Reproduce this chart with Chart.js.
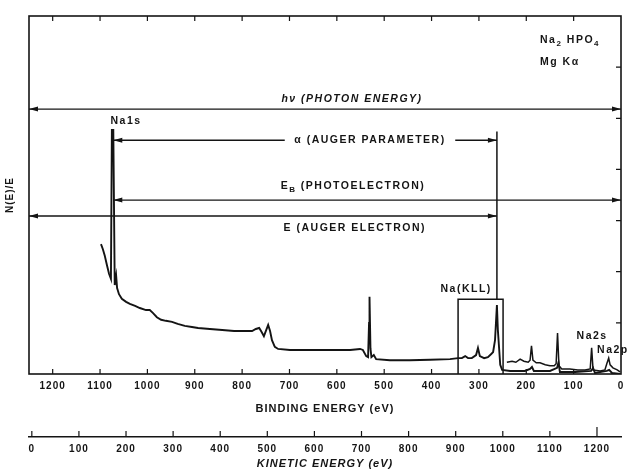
<!DOCTYPE html>
<html>
<head>
<meta charset="utf-8">
<script src="https://cdn.jsdelivr.net/npm/chart.js@4.4.0/dist/chart.umd.min.js"></script>
<style>
    html, body { margin: 0; padding: 0; background: #fff; }
    #wrap { width: 627px; height: 473px; }
</style>
</head>
<body>
<div id="wrap"><canvas id="xps-chart"></canvas></div>
<script>
// survey spectrum: binding energy (eV) and N(E)/E (arbitrary units)
const bindingEnergy = [1098, 1094, 1090, 1085, 1081, 1077, 1075, 1072, 1069, 1066, 1064, 1060, 1054, 1045, 1037,
    1026, 1016, 1003, 995, 988, 980, 971, 961, 948, 936, 921, 906, 893, 868, 842, 817, 794, 779, 771, 764, 760,
    754, 745, 741, 737, 731, 724, 699, 657, 614, 572, 551, 545, 538, 534, 532, 531, 529, 527, 522, 517, 488, 446,
    403, 361, 344, 336, 329, 323, 315, 306, 302, 298, 289, 281, 274, 270, 266, 262, 260, 255, 251, 234, 213, 203,
    192, 188, 184, 150, 135, 132, 129, 97, 63, 59, 55, 30, 25, 19, 2];
const counts = [2.54, 2.44, 2.31, 2.11, 1.96, 1.86, 4.77, 4.77, 1.74, 1.92, 1.68, 1.56, 1.47, 1.41, 1.37,
    1.33, 1.29, 1.25, 1.25, 1.19, 1.11, 1.06, 1.04, 1.02, 0.98, 0.94, 0.92, 0.90, 0.88, 0.86, 0.84, 0.84, 0.84, 0.88, 0.90, 0.84,
    0.74, 0.96, 0.84, 0.66, 0.53, 0.49, 0.47, 0.47, 0.47, 0.47, 0.49, 0.47, 0.35, 0.33, 1.00, 1.51, 0.50, 0.33, 0.37, 0.29, 0.27, 0.27,
    0.28, 0.29, 0.31, 0.31, 0.35, 0.31, 0.31, 0.37, 0.51, 0.35, 0.31, 0.33, 0.39, 0.43, 0.66, 1.35, 0.86, 0.18, 0.08, 0.06, 0.06, 0.06,
    0.10, 0.14, 0.06, 0.06, 0.12, 0.23, 0.04, 0.04, 0.06, 0.12, 0.02, 0.06, 0.08, 0.02, 0.00];

// expanded trace of the low binding energy end
const expandedEnergy = [241, 230, 222, 213, 205, 196, 192, 189, 186, 179, 171, 160, 150, 141, 137, 134, 131, 125,
    108, 91, 76, 65, 62, 59, 44, 34, 30, 26, 23, 17, 8, 2];
const expandedCounts = [0.23, 0.25, 0.23, 0.29, 0.25, 0.23, 0.27, 0.55, 0.27, 0.22, 0.22, 0.18, 0.16, 0.16, 0.20, 0.80, 0.16, 0.10,
    0.10, 0.08, 0.08, 0.10, 0.51, 0.08, 0.06, 0.08, 0.20, 0.31, 0.18, 0.12, 0.08, 0.04];

// Na(KLL) marker and box
const kllMarkerEnergy = [262, 262];
const kllMarkerLevel = [4.74, 1.46];
const kllBoxEnergy = [344, 344, 249, 249];
const kllBoxLevel = [0, 1.46, 1.46, 0];

// energy arrows: hv, alpha, E_B, E
const arrowFrom = [1250, 1072, 1072, 1250];
const arrowTo = [0, 262, 0, 262];
const arrowLevel = [5.18, 4.57, 3.40, 3.09];
const arrowGapFrom = [null, 710, null, null];
const arrowGapTo = [null, 350, null, null];

const bindingTicks = [1200, 1100, 1000, 900, 800, 700, 600, 500, 400, 300, 200, 100, 0];
const kineticTicks = [0, 100, 200, 300, 400, 500, 600, 700, 800, 900, 1000, 1100, 1200];

const ink = '#141414';
const toPoints = (xs, ys) => xs.map((x, i) => ({x: x, y: ys[i]}));

const arrowSets = arrowFrom.map((from, i) => {
    const lv = arrowLevel[i];
    const pts = [{x: from, y: lv}];
    if (arrowGapFrom[i] !== null) {
        pts.push({x: arrowGapFrom[i], y: lv});
        pts.push({x: (arrowGapFrom[i] + arrowGapTo[i]) / 2, y: null});
        pts.push({x: arrowGapTo[i], y: lv});
    }
    pts.push({x: arrowTo[i], y: lv});
    return {data: pts, borderWidth: 1.4, arrowHeads: true};
});

// text placed in data units (binding energy, level)
const notes = [
    {parts: ['Na1s'], x: 1045, y: 4.95},
    {parts: ['hν (PHOTON ENERGY)'], x: 568, y: 5.38, italic: true},
    {parts: ['α (AUGER PARAMETER)'], x: 530, y: 4.57},
    {parts: ['E', '_B', ' (PHOTOELECTRON)'], x: 566, y: 3.68},
    {parts: ['E (AUGER ELECTRON)'], x: 562, y: 2.85},
    {parts: ['Na(KLL)'], x: 327, y: 1.66},
    {parts: ['Na2s'], x: 61, y: 0.74},
    {parts: ['Na2p'], x: 17, y: 0.47},
    {parts: ['Na', '_2', ' HPO', '_4'], x: 171, y: 6.53, left: true},
    {parts: ['Mg Kα'], x: 171, y: 6.10, left: true},
];

function drawParts(ctx, note, px, py) {
    const base = (note.italic ? 'italic ' : '') + 'bold 10.5px "Liberation Sans", Arial, sans-serif';
    const sub = 'bold 8px "Liberation Sans", Arial, sans-serif';
    const widths = note.parts.map(p => {
        ctx.font = p.startsWith('_') ? sub : base;
        return ctx.measureText(p.replace(/^_/, '')).width;
    });
    const total = widths.reduce((a, b) => a + b, 0);
    let x = note.left ? px : px - total / 2;
    note.parts.forEach((p, i) => {
        const isSub = p.startsWith('_');
        ctx.font = isSub ? sub : base;
        ctx.fillText(p.replace(/^_/, ''), x, isSub ? py + 4 : py);
        x += widths[i];
    });
}

const spacing = {
    id: 'spacing',
    beforeUpdate(chart) { chart.ctx.letterSpacing = '1px'; },
    beforeDraw(chart) { chart.ctx.letterSpacing = '1px'; },
};

const frameAndNotes = {
    id: 'frameAndNotes',
    afterDraw(chart) {
        const {ctx, chartArea: a, scales} = chart;
        const xs = scales.x, ys = scales.y, ks = scales.x2;
        ctx.save();
        ctx.strokeStyle = ink;
        ctx.fillStyle = ink;
        ctx.lineWidth = 1.6;
        ctx.strokeRect(a.left, a.top, a.width, a.height);

        // inward ticks on the frame, upward ticks on the kinetic energy line
        ctx.lineWidth = 1.2;
        ctx.beginPath();
        bindingTicks.forEach(v => {
            if (v === 0) return;
            const px = xs.getPixelForValue(v);
            ctx.moveTo(px, a.bottom); ctx.lineTo(px, a.bottom - 5);
            ctx.moveTo(px, a.top); ctx.lineTo(px, a.top + 5);
        });
        for (let k = 1; k < 7; k++) {
            const py = ys.getPixelForValue(k);
            ctx.moveTo(a.right, py); ctx.lineTo(a.right - 5, py);
        }
        kineticTicks.forEach(v => {
            const px = ks.getPixelForValue(v);
            ctx.moveTo(px, ks.top); ctx.lineTo(px, ks.top - (v === 1200 ? 10 : 6));
        });
        ctx.stroke();

        // arrowheads
        chart.data.datasets.forEach((ds, i) => {
            if (!ds.arrowHeads) return;
            const pts = chart.getDatasetMeta(i).data;
            const p0 = pts[0], p1 = pts[pts.length - 1];
            ctx.beginPath();
            ctx.moveTo(p0.x, p0.y); ctx.lineTo(p0.x + 9, p0.y - 2.5); ctx.lineTo(p0.x + 9, p0.y + 2.5);
            ctx.closePath();
            ctx.moveTo(p1.x, p1.y); ctx.lineTo(p1.x - 9, p1.y - 2.5); ctx.lineTo(p1.x - 9, p1.y + 2.5);
            ctx.closePath();
            ctx.fill();
        });

        ctx.letterSpacing = '1.5px';
        ctx.textBaseline = 'middle';
        notes.forEach(n => drawParts(ctx, n, xs.getPixelForValue(n.x), ys.getPixelForValue(n.y)));
        ctx.restore();
    }
};

Chart.defaults.font.family = '"Liberation Sans", Arial, sans-serif';
Chart.defaults.color = ink;

const plainLabel = v => String(v);
const fitHeight = h => s => { s.height = h; s.paddingLeft = 0; s.paddingRight = 0; };

const ctx = document.getElementById('xps-chart').getContext('2d');
const xpsChart = new Chart(ctx, {
    type: 'line',
    data: {
        datasets: [
            {data: toPoints(bindingEnergy, counts), borderWidth: 1.9},
            {data: toPoints(expandedEnergy, expandedCounts), borderWidth: 1.5},
            {data: toPoints(kllMarkerEnergy, kllMarkerLevel), borderWidth: 1.5},
            {data: toPoints(kllBoxEnergy, kllBoxLevel), borderWidth: 1.5},
            ...arrowSets,
        ]
    },
    options: {
        responsive: true,
        maintainAspectRatio: false,
        animation: false,
        layout: {padding: {top: 16, right: 6, left: 0, bottom: 0}},
        plugins: {
            legend: {display: false},
            tooltip: {enabled: false},
        },
        elements: {
            point: {radius: 0},
            line: {tension: 0, borderColor: ink, fill: false},
        },
        scales: {
            x: {
                type: 'linear',
                position: 'bottom',
                weight: 0,
                reverse: true,
                min: 0,
                max: 1250,
                afterBuildTicks: s => { s.ticks = bindingTicks.map(v => ({value: v})); },
                afterFit: fitHeight(63),
                grid: {display: false, drawTicks: false},
                border: {display: false},
                ticks: {padding: 6, autoSkip: false, maxRotation: 0, font: {size: 10, weight: 'bold'}, callback: plainLabel},
                title: {display: true, text: 'BINDING ENERGY (eV)', font: {size: 11, weight: 'bold'},
                    padding: {top: 4, bottom: 21}},
            },
            x2: {
                type: 'linear',
                position: 'bottom',
                weight: 1,
                min: -6,
                max: 1251,
                afterBuildTicks: s => { s.ticks = kineticTicks.map(v => ({value: v})); },
                afterFit: fitHeight(36),
                grid: {display: false, drawTicks: false},
                border: {display: true, color: ink, width: 1.5},
                ticks: {padding: 6, autoSkip: false, maxRotation: 0, font: {size: 10, weight: 'bold'}, callback: plainLabel},
                title: {display: true, text: 'KINETIC ENERGY (eV)', font: {size: 11, weight: 'bold', style: 'italic'},
                    padding: {top: 0, bottom: 2}},
            },
            y: {
                min: 0,
                max: 7,
                afterFit: s => { s.width = 29; },
                grid: {display: false, drawTicks: false},
                border: {display: false},
                ticks: {display: false},
                title: {display: true, text: 'N(E)/E', font: {size: 10, weight: 'bold'}, padding: {top: 4, bottom: 0}},
            }
        }
    },
    plugins: [spacing, frameAndNotes]
});
</script>
</body>
</html>
